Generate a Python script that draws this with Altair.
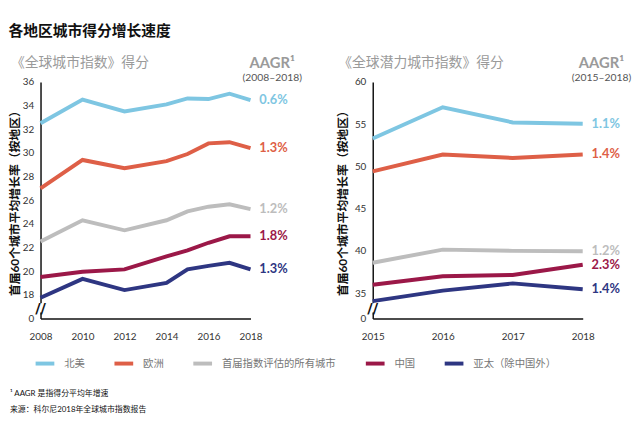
import altair as alt
import pandas as pd

FONT = "Lato, Noto Sans CJK SC, sans-serif"

regions = ["北美", "欧洲", "首届指数评估的所有城市", "中国", "亚太（除中国外）"]
colors = ["#7EC6E2", "#DE5F47", "#BDBDBD", "#9B1848", "#2E3682"]

gci_years = [2008, 2010, 2012, 2014, 2015, 2016, 2017, 2018]
gci_na = [32.5, 34.5, 33.5, 34.1, 34.6, 34.55, 35.0, 34.45]
gci_eu = [27.0, 29.4, 28.7, 29.3, 29.9, 30.8, 30.9, 30.4]
gci_all = [22.5, 24.3, 23.45, 24.3, 25.05, 25.45, 25.65, 25.25]
gci_cn = [19.5, 19.95, 20.15, 21.25, 21.75, 22.4, 22.95, 22.95]
gci_ap = [17.75, 19.35, 18.4, 19.0, 20.15, 20.45, 20.7, 20.15]
gci_aagr = ["0.6%", "1.3%", "1.2%", "1.8%", "1.3%"]
gci_xticks = [2008, 2010, 2012, 2014, 2016, 2018]
gci_yticks = [16, 18, 20, 22, 24, 26, 28, 30, 32, 34, 36]

gcp_years = [2015, 2016, 2017, 2018]
gcp_na = [53.3, 57.0, 55.2, 55.05]
gcp_eu = [49.4, 51.4, 51.0, 51.4]
gcp_all = [38.6, 40.15, 40.0, 39.95]
gcp_cn = [36.0, 37.0, 37.15, 38.35]
gcp_ap = [34.05, 35.3, 36.15, 35.45]
gcp_aagr = ["1.1%", "1.4%", "1.2%", "2.3%", "1.4%"]
gcp_xticks = [2015, 2016, 2017, 2018]
gcp_yticks = [32, 35, 40, 45, 50, 55, 60]

ytitle = "首届60个城市平均增长率（按地区）"
main_title = "各地区城市得分增长速度"
footnotes = ["¹ AAGR 是指得分平均年增速", "来源：科尔尼2018年全球城市指数报告"]

W, H = 213, 240


def panel(years, series, aagr, ydomain, yticks, xticks, subtitle, period,
          sub_x, show_legend, notes, title_pad, head_x):
    rows = []
    for r, vals in zip(regions, series):
        for yr, v in zip(years, vals):
            rows.append({"region": r, "year": yr, "value": v})
    df = pd.DataFrame(rows)
    ends = pd.DataFrame({
        "region": regions,
        "year": [years[-1]] * len(regions),
        "value": [s[-1] for s in series],
        "aagr": aagr,
    })
    brk = pd.DataFrame({"year": [years[0]], "value": [ydomain[0] + 0.045 * (ydomain[1] - ydomain[0])]})

    x = alt.X("year:Q",
              scale=alt.Scale(domain=[years[0], years[-1]], nice=False, zero=False),
              axis=alt.Axis(values=xticks, format="d", title=None, labelPadding=13,
                            labelFlush=False))
    y = alt.Y("value:Q",
              scale=alt.Scale(domain=ydomain, nice=False, zero=False),
              axis=alt.Axis(values=yticks, title=ytitle, titlePadding=title_pad,
                            labelFlush=False,
                            labelExpr=f"datum.value == {ydomain[0]} ? '0' : datum.label"))
    cscale = alt.Scale(domain=regions, range=colors)
    if show_legend:
        color = alt.Color("region:N", scale=cscale, sort=regions, legend=alt.Legend(title=None))
    else:
        color = alt.Color("region:N", scale=cscale, sort=regions)

    lines = alt.Chart(df).mark_line(strokeWidth=4, strokeCap="butt").encode(
        x=x, y=y, color=color, order="year:Q")
    labels = alt.Chart(ends).mark_text(
        align="left", baseline="middle", dx=9, fontSize=13, fontWeight="bold", font=FONT
    ).encode(x=x, y=y, text="aagr:N", color=alt.Color("region:N", scale=cscale, legend=None))
    cover = alt.Chart(brk).mark_point(shape="square", filled=True, color="white", size=90, opacity=1).encode(x=x, y=y)
    slash = alt.Chart(brk).mark_text(text="//", fontSize=15, fontWeight="bold", color="#111",
                                      font="DejaVu Sans").encode(x=x, y=y)

    head = pd.DataFrame({"t": [subtitle]})
    sub = alt.Chart(head).mark_text(align="left", baseline="middle", fontSize=14, color="#9A9A9A",
                                     font=FONT).encode(x=alt.value(sub_x), y=alt.value(-19), text="t:N")
    aagr_df = pd.DataFrame({"t": ["AAGR¹"]})
    aagr_t = alt.Chart(aagr_df).mark_text(align="center", baseline="middle", fontSize=15,
                                           fontWeight="bold", color="#9A9A9A", font=FONT
                                           ).encode(x=alt.value(W + head_x), y=alt.value(-19), text="t:N")
    per_df = pd.DataFrame({"t": [period]})
    per_t = alt.Chart(per_df).mark_text(align="center", baseline="middle", fontSize=10.5,
                                         color="#555", font=FONT
                                         ).encode(x=alt.value(W + head_x), y=alt.value(-4), text="t:N")
    layers = [cover, lines, slash, labels, sub, aagr_t, per_t]
    if notes:
        for i, n in enumerate(notes):
            nd = pd.DataFrame({"t": [n]})
            layers.append(alt.Chart(nd).mark_text(align="left", baseline="middle", fontSize=8,
                                                  color="#111", font=FONT).encode(
                x=alt.value(-31), y=alt.value(317 + 16 * i), text="t:N"))
    return alt.layer(*layers).properties(width=W, height=H)


left = panel(gci_years, [gci_na, gci_eu, gci_all, gci_cn, gci_ap], gci_aagr, [16, 36],
             gci_yticks, gci_xticks, "《全球城市指数》得分", "(2008–2018)", -30, True, footnotes, 1, 22)
right = panel(gcp_years, [gcp_na, gcp_eu, gcp_all, gcp_cn, gcp_ap], gcp_aagr, [32, 60],
              gcp_yticks, gcp_xticks, "《全球潜力城市指数》得分", "(2015–2018)", -35, False, None, 5, 19)

chart = alt.hconcat(left, right, spacing=34).properties(
    title=alt.TitleParams(main_title, anchor="start", fontSize=15, fontWeight="bold",
                          color="#111", font=FONT, offset=18),
    padding={"left": 0, "top": 13, "right": 0, "bottom": 0},
).configure_view(stroke=None).configure_axis(
    grid=False, ticks=False, domainColor="#111", domainWidth=1.5,
    labelFontSize=10, labelColor="#333", labelFont=FONT, labelPadding=7,
    titleFontSize=12, titleFontWeight="bold", titleColor="#111", titleFont=FONT,
).configure_legend(
    orient="none", legendX=-7, legendY=274, direction="horizontal",
    symbolType="stroke", symbolStrokeWidth=4, symbolSize=361, labelFontSize=10.5,
    labelColor="#777", labelFont=FONT, columnPadding=22, labelOffset=8,
)

chart.save("out.html", embed_options={"renderer": "svg", "actions": False})
